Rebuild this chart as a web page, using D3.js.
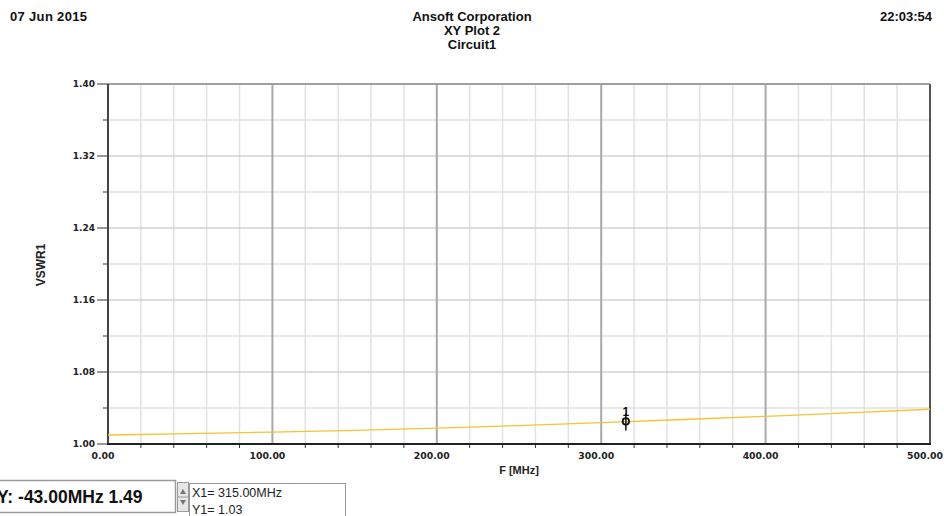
<!DOCTYPE html>
<html>
<head>
<meta charset="utf-8">
<script src="https://cdn.jsdelivr.net/npm/d3@7"></script>
<style>
  body { margin: 0; background: #fff; overflow: hidden; }
  svg { display: block; }
</style>
</head>
<body>
<div id="chart-area"></div>
<script>
// data
const freq = [0, 50, 100, 150, 200, 250, 300, 350, 400, 450, 500];
const vswr = [1.0100, 1.0115, 1.0132, 1.0152, 1.0177, 1.0205, 1.0238, 1.0272, 1.0308, 1.0345, 1.0386];
const xTicks = [0, 100, 200, 300, 400, 500];
const yTicks = [1.00, 1.08, 1.16, 1.24, 1.32, 1.40];
const markerFreq = 315;
const markerVswr = 1.0251;

const W = 944, H = 516;
const plot = { left: 108, right: 930, top: 84, bottom: 444 };

const svg = d3.select("#chart-area").append("svg")
    .attr("width", W)
    .attr("height", H);

const x = d3.scaleLinear().domain([0, 500]).range([plot.left, plot.right]);
const y = d3.scaleLinear().domain([1.0, 1.4]).range([plot.bottom, plot.top]);

// header
const hdr = svg.append("g")
    .attr("font-family", "Liberation Sans, Arial, sans-serif")
    .attr("font-weight", "bold")
    .attr("font-size", 13)
    .attr("fill", "#111");
hdr.append("text").attr("x", 10).attr("y", 21).attr("textLength", 77).text("07 Jun 2015");
hdr.append("text").attr("x", 932).attr("y", 21).attr("text-anchor", "end").text("22:03:54");
hdr.append("text").attr("x", 472).attr("y", 21).attr("text-anchor", "middle").text("Ansoft Corporation");
hdr.append("text").attr("x", 472).attr("y", 35).attr("text-anchor", "middle").text("XY Plot 2");
hdr.append("text").attr("x", 472).attr("y", 49).attr("text-anchor", "middle").text("Circuit1");

// grid
const xMinor = d3.range(0, 501, 20).filter(d => d % 100 !== 0);
const yMinor = d3.range(1.04, 1.4, 0.08);

const grid = svg.append("g");
grid.selectAll(".vminor").data(xMinor).enter().append("line")
    .attr("x1", d => x(d)).attr("x2", d => x(d))
    .attr("y1", plot.top).attr("y2", plot.bottom)
    .attr("stroke", "#e2e2e2").attr("stroke-width", 1.5);
grid.selectAll(".hminor").data(yMinor).enter().append("line")
    .attr("x1", plot.left).attr("x2", plot.right)
    .attr("y1", d => y(d)).attr("y2", d => y(d))
    .attr("stroke", "#e2e2e2").attr("stroke-width", 1.5);
grid.selectAll(".hmajor").data(yTicks.slice(1, -1)).enter().append("line")
    .attr("x1", plot.left).attr("x2", plot.right)
    .attr("y1", d => y(d)).attr("y2", d => y(d))
    .attr("stroke", "#d2d2d2").attr("stroke-width", 1.5);
grid.selectAll(".vmajor").data(xTicks.slice(1, -1)).enter().append("line")
    .attr("x1", d => x(d)).attr("x2", d => x(d))
    .attr("y1", plot.top).attr("y2", plot.bottom)
    .attr("stroke", "#a8a8a8").attr("stroke-width", 2);

// frame
svg.append("line")
    .attr("x1", plot.left).attr("x2", plot.right)
    .attr("y1", plot.top).attr("y2", plot.top)
    .attr("stroke", "#a0a0a0").attr("stroke-width", 2);
svg.append("line")
    .attr("x1", plot.right).attr("x2", plot.right)
    .attr("y1", plot.top).attr("y2", plot.bottom)
    .attr("stroke", "#555").attr("stroke-width", 2);

// y axis
const yAxis = svg.append("g");
yAxis.selectAll(".ymaj").data(yTicks).enter().append("line")
    .attr("x1", 97).attr("x2", plot.left)
    .attr("y1", d => y(d)).attr("y2", d => y(d))
    .attr("stroke", "#333").attr("stroke-width", 1);
yAxis.selectAll(".ymin").data(yMinor).enter().append("line")
    .attr("x1", 103).attr("x2", plot.left)
    .attr("y1", d => y(d)).attr("y2", d => y(d))
    .attr("stroke", "#333").attr("stroke-width", 1);
yAxis.selectAll("text").data(yTicks).enter().append("text")
    .attr("x", 95).attr("y", d => y(d) + 2.5)
    .attr("text-anchor", "end")
    .attr("font-family", "DejaVu Sans, sans-serif")
    .attr("font-weight", "bold")
    .attr("font-size", 9)
    .attr("fill", "#222")
    .text(d => d.toFixed(2));
yAxis.append("line")
    .attr("x1", plot.left).attr("x2", plot.left)
    .attr("y1", plot.top).attr("y2", plot.bottom + 1)
    .attr("stroke", "#444").attr("stroke-width", 2);

// x axis
const xAxis = svg.append("g");
xAxis.selectAll(".xmin").data(xMinor).enter().append("line")
    .attr("x1", d => x(d)).attr("x2", d => x(d))
    .attr("y1", plot.bottom).attr("y2", plot.bottom + 4)
    .attr("stroke", "#333").attr("stroke-width", 1);
xAxis.selectAll("text").data(xTicks).enter().append("text")
    .attr("x", d => x(d) - 5).attr("y", 459)
    .attr("text-anchor", "middle")
    .attr("font-family", "DejaVu Sans, sans-serif")
    .attr("font-weight", "bold")
    .attr("font-size", 9.3)
    .attr("fill", "#222")
    .text(d => d.toFixed(2));
xAxis.append("line")
    .attr("x1", plot.left - 1).attr("x2", plot.right + 1)
    .attr("y1", plot.bottom).attr("y2", plot.bottom)
    .attr("stroke", "#222").attr("stroke-width", 2);

// axis titles
svg.append("text")
    .attr("x", 519).attr("y", 474)
    .attr("text-anchor", "middle")
    .attr("font-family", "Liberation Sans, Arial, sans-serif")
    .attr("font-weight", "bold")
    .attr("font-size", 11)
    .attr("fill", "#222")
    .text("F [MHz]");
svg.append("text")
    .attr("transform", "translate(45, 265) rotate(-90)")
    .attr("text-anchor", "middle")
    .attr("font-family", "Liberation Sans, Arial, sans-serif")
    .attr("font-weight", "bold")
    .attr("font-size", 12)
    .attr("fill", "#222")
    .text("VSWR1");

// curve
const line = d3.line()
    .x((d, i) => x(freq[i]))
    .y(d => y(d))
    .curve(d3.curveMonotoneX);
svg.append("path")
    .datum(vswr)
    .attr("d", line)
    .attr("fill", "none")
    .attr("stroke", "#f7c234")
    .attr("stroke-width", 1.3);

// marker
const mx = x(markerFreq), my = y(markerVswr);
const mk = svg.append("g").attr("stroke", "#111");
mk.append("line")
    .attr("x1", mx).attr("x2", mx)
    .attr("y1", my - 8).attr("y2", my + 9)
    .attr("stroke-width", 1.5);
mk.append("circle")
    .attr("cx", mx).attr("cy", my).attr("r", 3.2)
    .attr("fill", "none").attr("stroke-width", 1.8);
svg.append("text")
    .attr("x", mx).attr("y", my - 5)
    .attr("text-anchor", "middle")
    .attr("font-family", "Liberation Sans, Arial, sans-serif")
    .attr("font-weight", "bold")
    .attr("font-size", 12)
    .attr("fill", "#111")
    .text("1");

// bottom readout widgets
svg.append("rect")
    .attr("x", -2).attr("y", 480.5).attr("width", 177.5).attr("height", 32)
    .attr("fill", "#fff").attr("stroke", "#9a9a9a").attr("stroke-width", 1.5);
svg.append("text")
    .attr("x", -3).attr("y", 503)
    .attr("font-family", "Liberation Sans, Arial, sans-serif")
    .attr("font-weight", "bold")
    .attr("font-size", 17.5)
    .attr("fill", "#111")
    .text("Y: -43.00MHz 1.49");

const spin = svg.append("g");
spin.append("rect")
    .attr("x", 177.5).attr("y", 482.5).attr("width", 11).attr("height", 29)
    .attr("fill", "#e6e6e6").attr("stroke", "#9a9a9a");
spin.append("line")
    .attr("x1", 178).attr("x2", 188).attr("y1", 497).attr("y2", 497)
    .attr("stroke", "#9a9a9a");
spin.append("path").attr("d", "M180,494 L183,489 L186,494 Z").attr("fill", "#777");
spin.append("path").attr("d", "M180,500 L183,505 L186,500 Z").attr("fill", "#777");

svg.append("rect")
    .attr("x", 189.5).attr("y", 483.5).attr("width", 156).attr("height", 40)
    .attr("fill", "#fff").attr("stroke", "#9a9a9a");
svg.append("text")
    .attr("x", 192).attr("y", 497)
    .attr("font-family", "Liberation Sans, Arial, sans-serif")
    .attr("font-size", 12.5)
    .attr("fill", "#222")
    .text("X1= 315.00MHz");
svg.append("text")
    .attr("x", 192).attr("y", 514)
    .attr("font-family", "Liberation Sans, Arial, sans-serif")
    .attr("font-size", 12.5)
    .attr("fill", "#222")
    .text("Y1= 1.03");
</script>
</body>
</html>
